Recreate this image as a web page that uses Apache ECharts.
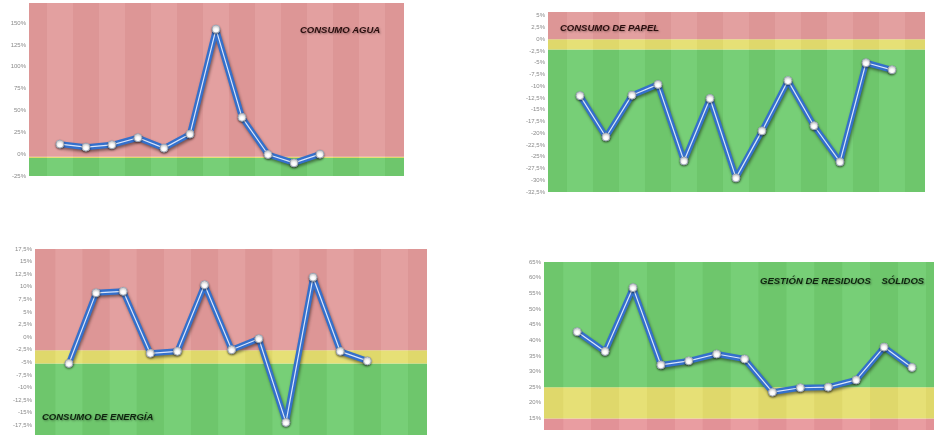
<!DOCTYPE html>
<html>
<head>
<meta charset="utf-8">
<script src="https://cdn.jsdelivr.net/npm/echarts@6/dist/echarts.min.js"></script>
<style>
html,body{margin:0;padding:0;background:#fff;}
#c{width:934px;height:435px;}
</style>
</head>
<body>
<div id="c"></div>
<script>
// ---- data ----
const titles = ['CONSUMO AGUA', 'CONSUMO DE PAPEL', 'CONSUMO DE ENERGÍA', 'GESTIÓN DE RESIDUOS    SÓLIDOS'];
const aguaValues = [11.5, 8.0, 10.7, 18.8, 6.9, 23.0, 143.1, 42.1, -0.4, -10.0, 0];
const papelValues = [-12.0, -20.8, -11.9, -9.6, -25.9, -12.6, -29.5, -19.5, -8.8, -18.4, -26.1, -5.0, -6.5];
const energiaValues = [-5.2, 8.8, 9.1, -3.2, -2.8, 10.4, -2.5, -0.3, -16.9, 11.9, -2.8, -4.7];
const residuosValues = [42.7, 36.4, 56.8, 32.1, 33.4, 35.6, 34.0, 23.4, 24.8, 25.0, 27.3, 37.8, 31.3];

// y-axis ranges and tick labels
const aguaAxis = {min: -25, max: 173, ticks: [-25, 0, 25, 50, 75, 100, 125, 150]};
const papelAxis = {min: -32.5, max: 5.8, ticks: [-32.5, -30, -27.5, -25, -22.5, -20, -17.5, -15, -12.5, -10, -7.5, -5, -2.5, 0, 2.5, 5]};
const energiaAxis = {min: -19.4, max: 17.5, ticks: [-17.5, -15, -12.5, -10, -7.5, -5, -2.5, 0, 2.5, 5, 7.5, 10, 12.5, 15, 17.5]};
const residuosAxis = {min: 11.3, max: 65, ticks: [15, 20, 25, 30, 35, 40, 45, 50, 55, 60, 65]};

// threshold bands [from, to, kind]
const aguaBands = [[-25, -4.5, 'g'], [-4.5, -3, 'y'], [-3, 173, 'r']];
const papelBands = [[-32.5, -2.2, 'g'], [-2.2, 0, 'y'], [0, 5.8, 'r']];
const energiaBands = [[-19.4, -5.2, 'g'], [-5.2, -2.6, 'y'], [-2.6, 17.5, 'r']];
const residuosBands = [[11.3, 15, 'r2'], [15, 25, 'y'], [25, 65, 'g']];

// ---- layout / style ----
const colors = {g: '#6fcd6f', y: '#e5df6e', r: '#e29b9b', r2: '#e8979c'};
const panels = [
  {values: aguaValues, axis: aguaAxis, bands: aguaBands, grid: {left: 29, top: 3, width: 375, height: 173}, x: [-1.19, 13.23], title: {left: 300, top: 25.5, color: '#2b0f0f'}},
  {values: papelValues, axis: papelAxis, bands: papelBands, grid: {left: 548, top: 12, width: 377, height: 180}, x: [-1.23, 13.27], title: {left: 560, top: 23.5, color: '#2b0f0f'}},
  {values: energiaValues, axis: energiaAxis, bands: energiaBands, grid: {left: 35, top: 249, width: 392, height: 186}, x: [-1.25, 13.2], title: {left: 42, top: 412.5, color: '#0f250f'}},
  {values: residuosValues, axis: residuosAxis, bands: residuosBands, grid: {left: 544, top: 262, width: 390, height: 168}, x: [-1.19, 12.79], title: {left: 760, top: 276.5, color: '#0f250f'}}
];

function fmt(v) {
  return String(Math.round(v * 10) / 10).replace('.', ',') + '%';
}

const option = {
  animation: false,
  backgroundColor: '#fff',
  title: [], grid: [], xAxis: [], yAxis: [], series: []
};

panels.forEach((p, i) => {
  option.grid.push(Object.assign({containLabel: false}, p.grid));
  option.title.push({
    text: titles[i], left: p.title.left, top: p.title.top, padding: 0,
    textStyle: {fontFamily: 'Liberation Sans', fontSize: 9.5, fontWeight: 'bold', fontStyle: 'italic',
      color: p.title.color, textShadowColor: 'rgba(0,0,0,0.35)', textShadowBlur: 2, textShadowOffsetX: 1, textShadowOffsetY: 1}
  });
  option.xAxis.push({
    type: 'value', gridIndex: i, min: p.x[0], max: p.x[1], show: false, splitLine: {show: false}
  });
  option.yAxis.push({
    type: 'value', gridIndex: i, min: p.axis.min, max: p.axis.max,
    axisLine: {show: false},
    axisTick: {show: false, customValues: p.axis.ticks},
    splitLine: {show: true, lineStyle: {color: 'rgba(255,255,255,0.18)', width: 1}},
    axisLabel: {fontFamily: 'Liberation Sans', fontSize: 6, color: '#8a8a8a', margin: 3,
      customValues: p.axis.ticks, formatter: v => fmt(v)}
  });

  // background: threshold bands + vertical stripes
  const areas = p.bands.map(b => [
    {yAxis: b[0], itemStyle: {color: colors[b[2]]}},
    {yAxis: b[1]}
  ]);
  for (let k = -2; k <= 14; k++) {
    const a = Math.max(k - 0.5, p.x[0]);
    const b = Math.min(k + 0.5, p.x[1]);
    if (b <= a) continue;
    areas.push([
      {xAxis: a, itemStyle: {color: (Math.abs(k) % 2 === 1) ? 'rgba(90,30,30,0.035)' : 'rgba(255,255,255,0.06)'}},
      {xAxis: b}
    ]);
  }
  option.series.push({
    type: 'line', xAxisIndex: i, yAxisIndex: i, data: [], z: 1, silent: true,
    markArea: {silent: true, data: areas, label: {show: false}}
  });

  const pts = p.values.map((v, j) => [j, v]);
  option.series.push({
    type: 'line', xAxisIndex: i, yAxisIndex: i, data: pts, z: 3,
    symbol: 'none',
    lineStyle: {color: '#3470cc', width: 6, shadowColor: 'rgba(0,0,0,0.45)', shadowBlur: 3, shadowOffsetX: 1, shadowOffsetY: 2}
  });
  option.series.push({
    type: 'line', xAxisIndex: i, yAxisIndex: i, data: pts, z: 4,
    symbol: 'circle', symbolSize: 8,
    itemStyle: {color: '#ffffff', borderColor: '#9aa4b4', borderWidth: 1, shadowColor: 'rgba(0,0,0,0.4)', shadowBlur: 2, shadowOffsetY: 1},
    lineStyle: {color: 'rgba(235,242,255,0.9)', width: 1.2}
  });
});

const chart = echarts.init(document.getElementById('c'), null, {renderer: 'canvas'});
chart.setOption(option);
</script>
</body>
</html>
